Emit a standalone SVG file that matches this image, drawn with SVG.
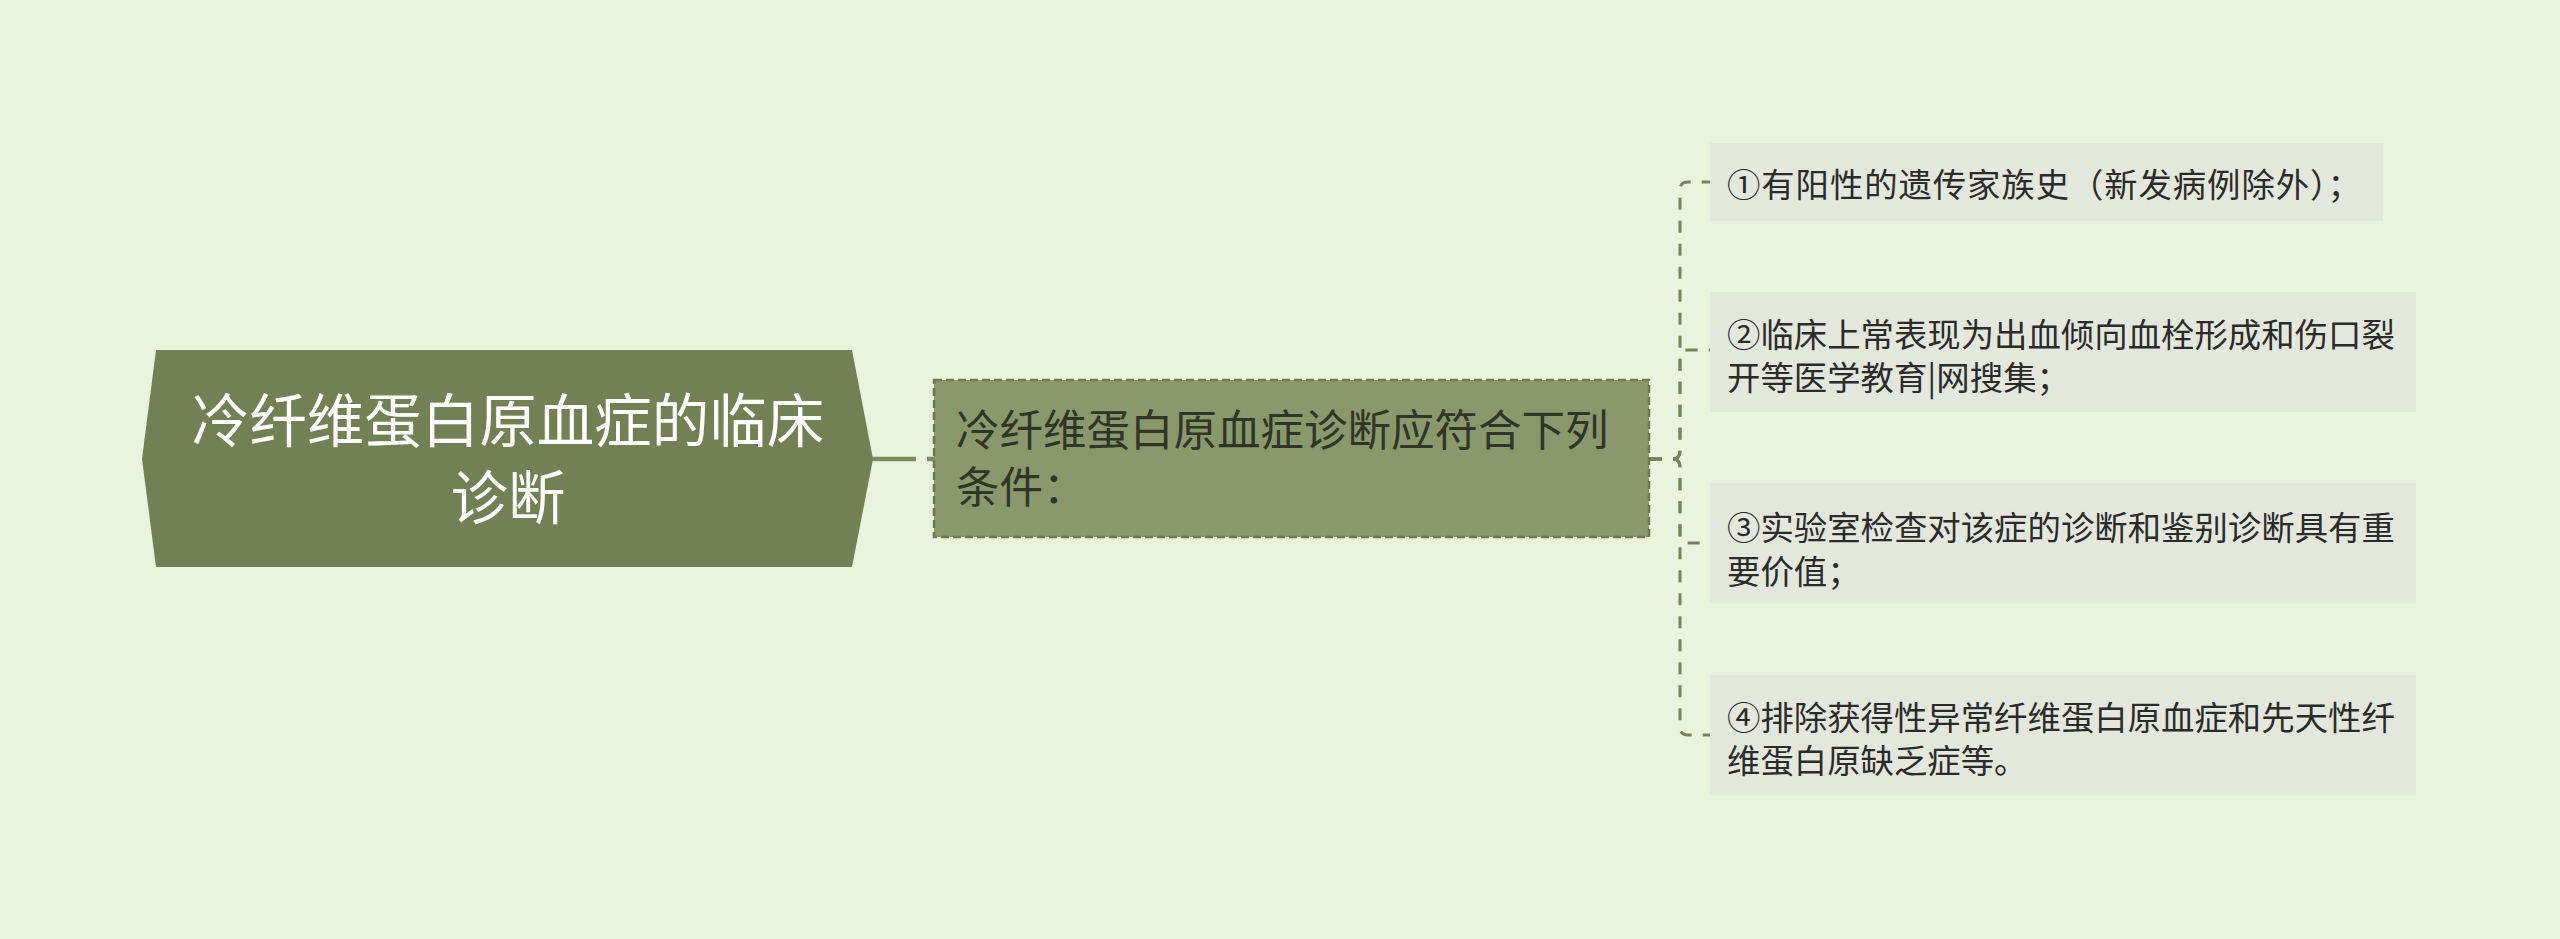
<svg xmlns="http://www.w3.org/2000/svg" width="2560" height="939" viewBox="0 0 2560 939">
<style>
.bg{fill:#e8f5dc}
.root{fill:#718153}
.sub{fill:#8a996b;stroke:#6c7b4f;stroke-width:2.5;stroke-dasharray:8 4}
.leaf{fill:#e4e8dc}
.t{font-family:"Noto Sans CJK SC","Noto Sans",sans-serif}
.rt{fill:#ffffff;font-size:57.5px;text-anchor:middle}
.st{fill:#2f3527;font-size:43.5px}
.lt{fill:#2b2b2b;font-size:33.4px}
.c{fill:none;stroke:#74845a;stroke-width:3;stroke-dasharray:12 11}
</style>
<rect class="bg" x="0" y="0" width="2560" height="939"/>
<g id="connectors">
<line x1="872" y1="459" x2="916" y2="459" stroke="#7d8d5f" stroke-width="4.5"/>
<line x1="927" y1="459" x2="934" y2="459" stroke="#7d8d5f" stroke-width="4.5"/>
<path class="c" d="M1650,459 H1672 Q1680,459 1680,451 V190 Q1680,182 1688,182 H1710"/>
<path class="c" d="M1650,459 H1672 Q1680,459 1680,451 V358 Q1680,350 1688,350 H1710"/>
<path class="c" d="M1650,459 H1672 Q1680,459 1680,467 V535 Q1680,543 1688,543 H1710"/>
<path class="c" d="M1650,459 H1672 Q1680,459 1680,467 V727 Q1680,735 1688,735 H1710"/>
</g>
<g id="root">
<polygon class="root" points="156,350 852,350 873,459 852,567 156,567 142,459"/>
<text class="t rt" x="508" y="442">冷纤维蛋白原血症的临床</text>
<text class="t rt" x="508" y="519">诊断</text>
</g>
<g id="sub">
<rect class="sub" x="934" y="380" width="715" height="157"/>
<text class="t st" x="956" y="446">冷纤维蛋白原血症诊断应符合下列</text>
<text class="t st" x="956" y="503">条件：</text>
</g>
<g id="leaf1">
<rect class="leaf" x="1710" y="143" width="673" height="78"/>
<text class="t lt" x="1727" y="197" textLength="634" lengthAdjust="spacing">①有阳性的遗传家族史（新发病例除外）；</text>
</g>
<g id="leaf2">
<rect class="leaf" x="1710" y="292" width="706" height="120"/>
<text class="t lt" x="1727" y="347">②临床上常表现为出血倾向血栓形成和伤口裂</text>
<text class="t lt" x="1727" y="390">开等医学教育|网搜集；</text>
</g>
<g id="leaf3">
<rect class="leaf" x="1710" y="483" width="706" height="120"/>
<text class="t lt" x="1727" y="540">③实验室检查对该症的诊断和鉴别诊断具有重</text>
<text class="t lt" x="1727" y="584">要价值；</text>
</g>
<g id="leaf4">
<rect class="leaf" x="1710" y="675" width="706" height="120"/>
<text class="t lt" x="1727" y="730">④排除获得性异常纤维蛋白原血症和先天性纤</text>
<text class="t lt" x="1727" y="773">维蛋白原缺乏症等。</text>
</g>
</svg>
